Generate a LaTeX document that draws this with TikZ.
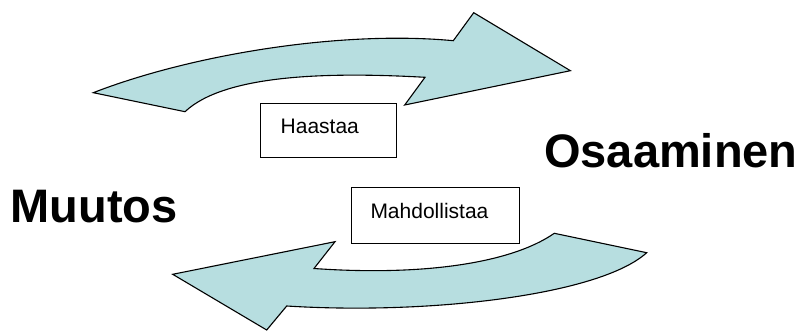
\documentclass[tikz,border=0pt]{standalone}
\usepackage{fontspec}
\setmainfont{Liberation Sans}
\definecolor{arrowfill}{RGB}{183,222,224}
\begin{document}
\begin{tikzpicture}[x=1pt,y=-1pt,
  bigarrow/.style={fill=arrowfill,draw=black,line width=1.1pt,line join=miter},
  labelbox/.style={draw=black,line width=1pt,inner sep=0pt,anchor=north west},
  boxtext/.style={anchor=base west,inner sep=0pt,font=\fontsize{21}{21}\selectfont},
  title/.style={anchor=base west,inner sep=0pt,font=\fontsize{47}{47}\selectfont\bfseries}]
\useasboundingbox (0,0) rectangle (806,331);

% upper curved arrow, pointing right
\draw[bigarrow] (93.3,92.7) .. controls (190,55) and (340,30) .. (453.3,40.7)
  -- (473.7,12.7) -- (570.4,70.7) -- (404.7,105) -- (425,77.3)
  .. controls (330,72) and (225,74) .. (185,111.7) -- cycle;

% lower curved arrow, pointing left
\draw[bigarrow] (554.3,233.3) -- (646.7,252.7)
  .. controls (600,295) and (430,315) .. (286.7,306)
  -- (266.7,330) -- (172.7,274.3) -- (335,241.7) -- (314,268.5)
  .. controls (420,276) and (510,264) .. cycle;

% label boxes
\node[labelbox,minimum width=136pt,minimum height=54pt] (haastaaBox) at (260,102.7) {};
\node[boxtext] (haastaa) at (280.5,133.3) {Haastaa};
\node[labelbox,minimum width=168.6pt,minimum height=55.4pt] (mahdBox) at (350.7,187.3) {};
\node[boxtext] (mahd) at (370.3,218.3) {Mahdollistaa};

% titles
\node[title] (osaaminen) at (544,167.7) {Osaaminen};
\node[title] (muutos) at (10.5,223) {Muutos};
\end{tikzpicture}
\end{document}
